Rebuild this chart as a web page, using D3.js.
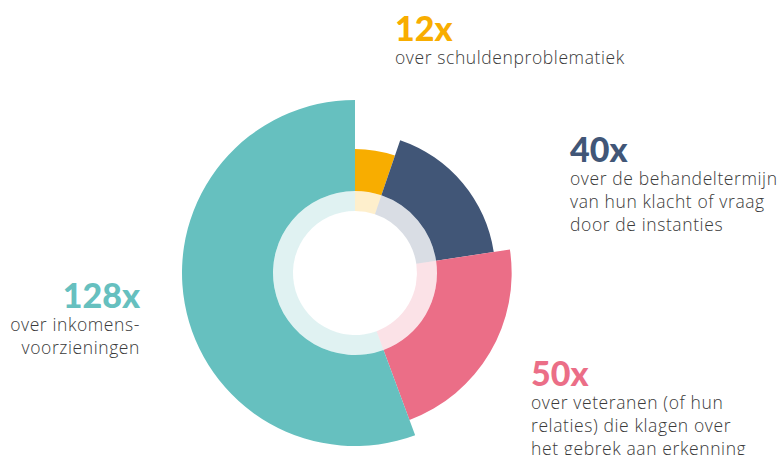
<!DOCTYPE html>
<html>
<head>
<meta charset="utf-8">
<script src="https://cdn.jsdelivr.net/npm/d3@7"></script>
<style>
  body { margin: 0; background: #fff; }
  text { font-family: "Lato", "Open Sans", sans-serif; }
  .desc { font-family: "Open Sans", "Lato", sans-serif; letter-spacing: 0.6px; }
</style>
</head>
<body>
<div id="chart"></div>
<script>
// data
const values = [12, 40, 50, 128];
const labels = ["12x", "40x", "50x", "128x"];
const descriptions = [
    ["over schuldenproblematiek"],
    ["over de behandeltermijn", "van hun klacht of vraag", "door de instanties"],
    ["over veteranen (of hun", "relaties) die klagen over", "het gebrek aan erkenning"],
    ["over inkomens-", "voorzieningen"]
];
const colors = ["#f8ad00", "#415677", "#eb6e87", "#66c0bf"];

let width = 779, height = 455;
let cx = 355, cy = 273;

let svg = d3.select("#chart").append("svg")
    .attr("width", width)
    .attr("height", height);

let g = svg.append("g")
    .attr("transform", "translate(" + cx + "," + cy + ")");

let pie = d3.pie().sort(null).value(d => d);
let arcsData = pie(values);

// outer radius grows with the rank of the value
let ranks = values.map(v => values.filter(o => o < v).length);
let radius = d3.scaleLinear()
    .domain([0, values.length - 1])
    .range([124, 173]);

let outerArc = d3.arc()
    .innerRadius(82)
    .outerRadius((d, i) => radius(ranks[d.index]));

let innerArc = d3.arc()
    .innerRadius(62)
    .outerRadius(82);

g.selectAll(".outer")
    .data(arcsData)
    .enter().append("path")
    .attr("class", "outer")
    .attr("d", outerArc)
    .attr("fill", (d, i) => colors[i]);

g.selectAll(".inner")
    .data(arcsData)
    .enter().append("path")
    .attr("class", "inner")
    .attr("d", innerArc)
    .attr("fill", (d, i) => colors[i])
    .attr("fill-opacity", 0.2);

// label positions
let labelPos = [
    {x: 395, y: 41, anchor: "start"},
    {x: 570, y: 162, anchor: "start"},
    {x: 531, y: 386, anchor: "start"},
    {x: 140, y: 308, anchor: "end"}
];

labels.forEach((lab, i) => {
    let p = labelPos[i];
    svg.append("text")
        .text(lab)
        .attr("x", p.x)
        .attr("y", p.y)
        .attr("text-anchor", p.anchor)
        .attr("fill", colors[i])
        .attr("font-size", 34)
        .attr("font-weight", 900);

    descriptions[i].forEach((line, j) => {
        svg.append("text")
            .attr("class", "desc")
            .text(line)
            .attr("x", p.x)
            .attr("y", p.y + 23 + j * 23)
            .attr("text-anchor", p.anchor)
            .attr("fill", "#3a3a3a")
            .attr("font-size", 17.5)
            .attr("font-weight", 300);
    });
});
</script>
</body>
</html>
